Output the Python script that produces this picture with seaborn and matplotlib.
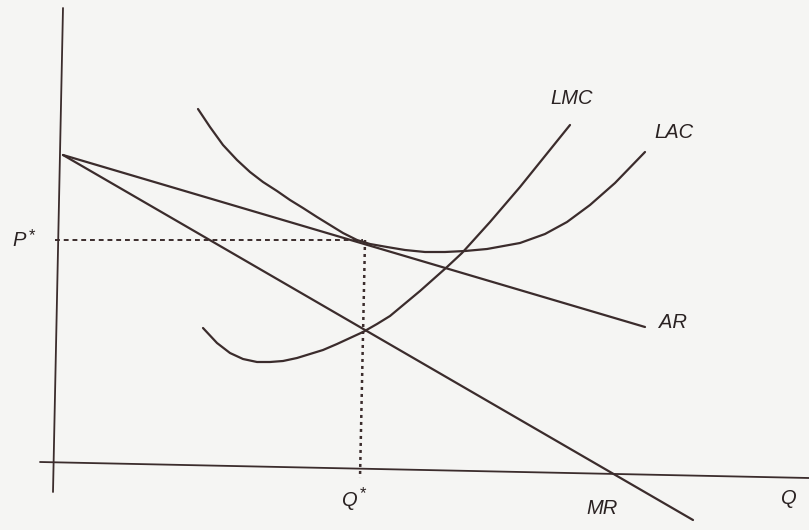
import numpy as np
import pandas as pd
import seaborn as sns
import matplotlib.pyplot as plt

# curve points (pixel-style coordinates, y grows downward)
lac_x = [198, 210, 223, 237, 250, 263, 277, 290, 303, 317, 330, 343, 357, 370,
         387, 405, 425, 445, 465, 487, 520, 545, 567, 590, 615, 645]
lac_y = [109, 127, 145, 160, 172, 182, 191, 200, 208, 217, 225, 233, 240, 244,
         247, 250, 252, 252, 251, 249, 243, 234, 222, 205, 183, 152]

lmc_x = [203, 217, 230, 243, 257, 270, 283, 297, 310, 323, 337, 350, 363, 377,
         390, 420, 447, 462, 490, 520, 545, 570]
lmc_y = [328, 343, 353, 359, 362, 362, 361, 358, 354, 350, 344, 338, 332, 324,
         316, 291, 267, 253, 222, 187, 156, 125]

ar_x = [63, 645]
ar_y = [155, 327]

mr_x = [63, 693]
mr_y = [155, 520]

# axes of the diagram (slightly skewed in the scan)
vaxis_x = [63, 53]
vaxis_y = [8, 492]
haxis_x = [40, 809]
haxis_y = [462, 478]

# P* and Q* guides
p_star = 240
q_star = 365

labels = {
    "LMC": (550, 99),
    "LAC": (654, 132),
    "AR": (659, 322),
    "P": (12, 241),
    "Q": (342, 500),
    "MR": (586, 509),
    "Q ": (781, 499),
}
stars = [(29, 236), (360, 494)]

ink = "#3b2c2c"

sns.set_theme(style="white")
plt.rcParams["font.family"] = ["Liberation Sans", "DejaVu Sans"]

fig = plt.figure(figsize=(8.09, 5.30), dpi=100)
fig.patch.set_facecolor("#f5f5f3")
ax = fig.add_axes([0, 0, 1, 1])
ax.set_facecolor("#f5f5f3")

df = pd.concat([
    pd.DataFrame({"x": lac_x, "y": lac_y, "curve": "LAC"}),
    pd.DataFrame({"x": lmc_x, "y": lmc_y, "curve": "LMC"}),
    pd.DataFrame({"x": ar_x, "y": ar_y, "curve": "AR"}),
    pd.DataFrame({"x": mr_x, "y": mr_y, "curve": "MR"}),
    pd.DataFrame({"x": vaxis_x, "y": vaxis_y, "curve": "vaxis"}),
    pd.DataFrame({"x": haxis_x, "y": haxis_y, "curve": "haxis"}),
])

for name, grp in df.groupby("curve"):
    lw = 1.3 if name in ("vaxis", "haxis") else 1.6
    sns.lineplot(data=grp, x="x", y="y", sort=False, color=ink, lw=lw,
                 ax=ax, legend=False, estimator=None)

# dotted guide lines
ax.plot([55, q_star - 2], [p_star, p_star], color=ink, lw=1.4, ls=(0, (2.5, 2)))
ax.plot([q_star, q_star - 5], [p_star, 478], color=ink, lw=1.8, ls=(0, (1.2, 1.6)))

for text, (tx, ty) in labels.items():
    ax.text(tx, ty, text.strip(), fontsize=14.5, fontstyle="italic", color="#2a2222",
            va="center", ha="left")
for sx, sy in stars:
    ax.text(sx, sy, "*", fontsize=12, color="#2a2222", va="center", ha="left")

ax.set_xlim(0, 809)
ax.set_ylim(530, 0)
ax.axis("off")

fig.savefig("out.png", dpi=100, facecolor=fig.get_facecolor())
